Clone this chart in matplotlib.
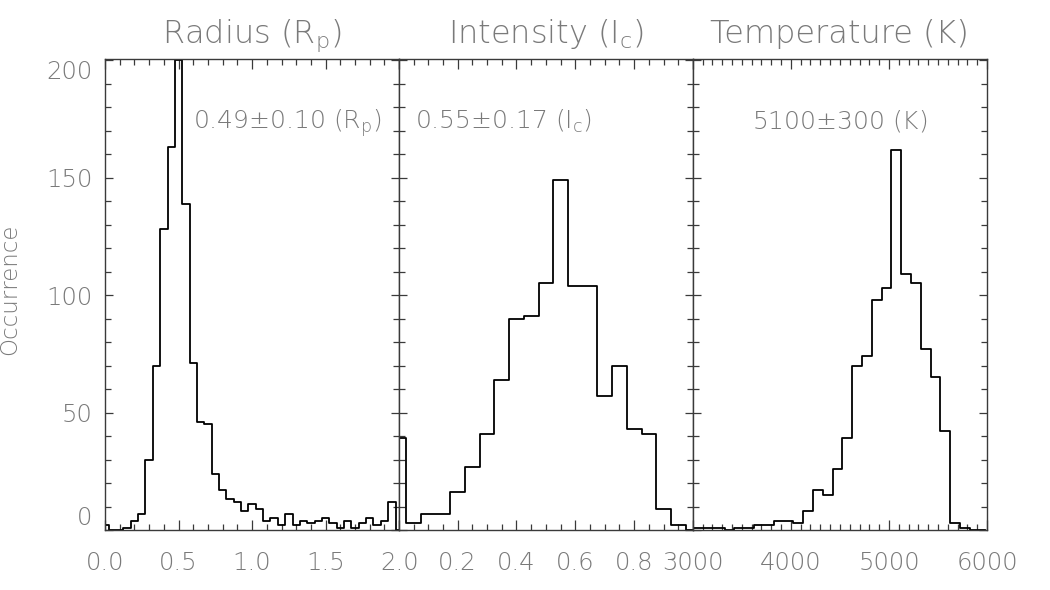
"""
plot.py

Histograms of radius, intensity and temperature, three panels side by side
in the style of an old IDL figure.
"""

# Importing in libraries
import numpy as np
import matplotlib
matplotlib.use("Agg")
import matplotlib.pyplot as plt
from matplotlib.ticker import MultipleLocator, FixedLocator

plt.rcParams["font.family"] = ["DejaVu Sans"]
plt.rcParams["font.weight"] = "light"
plt.rcParams["axes.titleweight"] = "light"
plt.rcParams["axes.labelweight"] = "light"
plt.rcParams["mathtext.default"] = "regular"

TEXT = "#7a7a7a"
FRAME = "#3a3a3a"

# Radius histogram (bin centres every 0.05 R_p)
radius_centres = np.linspace(0.0, 2.0, 41)
radius_counts = [2, 0, 0, 1, 4, 7, 30, 70, 128, 163,
                 200, 139, 71, 46, 45, 24, 17, 13, 12, 8,
                 11, 9, 4, 5, 2, 7, 2, 4, 3, 4,
                 5, 3, 1, 4, 1, 3, 5, 2, 4, 12,
                 0]

# Intensity histogram (bin centres every 0.05 I_c)
intensity_centres = np.linspace(0.0, 1.0, 21)
intensity_counts = [39, 3, 7, 7, 16, 27, 41, 64, 90, 91,
                    105, 149, 104, 104, 57, 70, 43, 41, 9, 2,
                    0]

# Temperature histogram (bin centres every 100 K)
temperature_centres = np.linspace(2975, 5975, 31)
temperature_counts = [1, 1, 1, 1, 0, 1, 1, 2, 2, 4,
                      4, 3, 8, 17, 15, 26, 39, 70, 74, 98,
                      103, 162, 109, 105, 77, 65, 42, 3, 1, 0,
                      0]

titles = ["Radius (R$_p$)", "Intensity (I$_c$)", "Temperature (K)"]
notes = ["0.49$\\pm$0.10 (R$_p$)", "0.55$\\pm$0.17 (I$_c$)", "5100$\\pm$300 (K)"]
note_x = [0.298, 0.056, 0.20]

x_ranges = [(0.0, 2.0), (0.0, 1.0), (3000, 6000)]
x_major = [0.5, 0.2, 1000]
x_minor = [0.1, 0.05, 100]
x_labels = [["0.0", "0.5", "1.0", "1.5", "2.0"],
            ["", "0.2", "0.4", "0.6", "0.8", ""],
            ["3000", "4000", "5000", "6000"]]

fig = plt.figure(figsize=(10.5, 5.9), dpi=100)
bottom = 1 - 530 / 590
height = (530 - 58.7) / 590
width = 294.2 / 1050
lefts = [105 / 1050, 398.8 / 1050, 692.8 / 1050]

data = [(radius_centres, radius_counts),
        (intensity_centres, intensity_counts),
        (temperature_centres, temperature_counts)]

axes = []
for i, (xc, yc) in enumerate(data):
    ax = fig.add_axes([lefts[i], bottom, width, height])
    ax.step(xc, yc, where="mid", color="black", lw=1.3, clip_on=True)
    ax.set_xlim(*x_ranges[i])
    ax.set_ylim(0, 200.7)

    lo, hi = x_ranges[i]
    ticks = np.arange(lo, hi + x_major[i] / 2, x_major[i])
    ax.xaxis.set_major_locator(FixedLocator(ticks))
    ax.set_xticklabels(x_labels[i])
    ax.xaxis.set_minor_locator(MultipleLocator(x_minor[i]))
    ax.yaxis.set_major_locator(FixedLocator([0, 50, 100, 150, 200]))
    ax.yaxis.set_minor_locator(MultipleLocator(10))

    ax.tick_params(axis="both", which="both", direction="in",
                   top=True, right=True, color=FRAME, width=0.9,
                   labelcolor=TEXT, labelsize=17.5)
    ax.tick_params(axis="x", which="major", length=7, pad=15)
    ax.tick_params(axis="x", which="minor", length=4)
    ax.tick_params(axis="y", which="major", length=5.5, pad=9)
    ax.tick_params(axis="y", which="minor", length=4.5)
    if i > 0:
        ax.tick_params(axis="y", labelleft=False)

    for sp in ax.spines.values():
        sp.set_color(FRAME)
        sp.set_linewidth(1.0)

    ax.set_title(titles[i], fontsize=23, color=TEXT, pad=11)
    ax.text(note_x[i], 0.851, notes[i], transform=ax.transAxes,
            fontsize=18, color=TEXT, va="baseline", ha="left")
    axes.append(ax)

# first panel carries the y labels; pull end labels inside like IDL does
ax1 = axes[0]
ax1.set_ylabel("Occurrence", fontsize=16.5, color=TEXT)
ax1.yaxis.set_label_coords(-0.285, 0.51)
yticks = ax1.yaxis.get_major_ticks()
yticks[0].label1.set_va("bottom")
yticks[-1].label1.set_va("top")

fig.savefig("out.png", dpi=100)
